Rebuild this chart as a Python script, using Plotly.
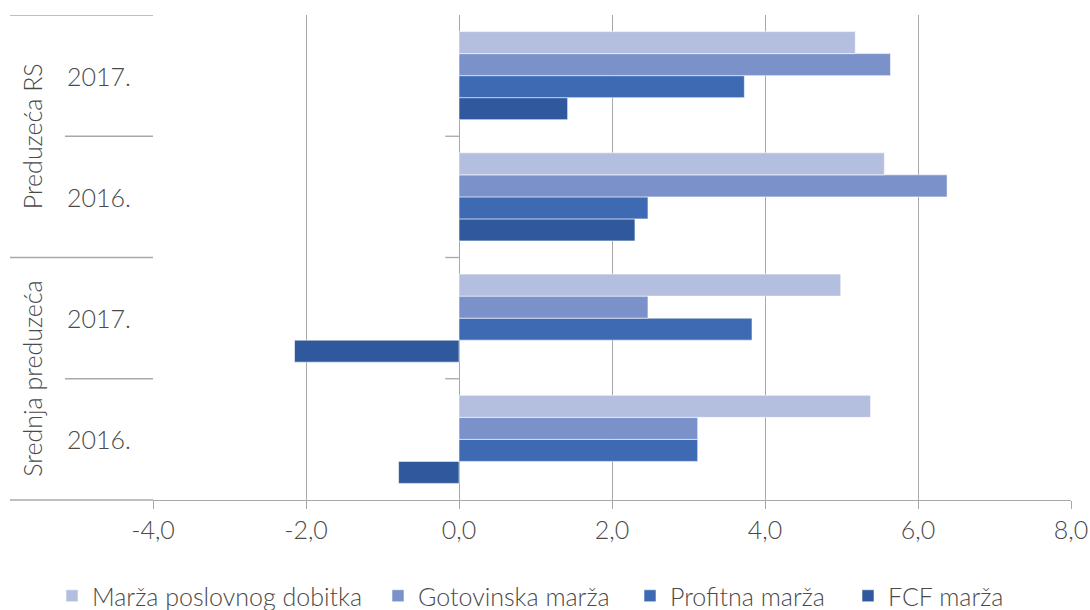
import plotly.graph_objects as go

# ---- data (bottom to top) ----
positions = [0, 1, 2, 3]
years = ["2016.", "2017.", "2016.", "2017."]
groups = ["Srednja preduzeća", "Preduzeća RS"]
group_centers = [0.5, 2.5]

series_names = ["Marža poslovnog dobitka", "Gotovinska marža", "Profitna marža", "FCF marža"]
marza_poslovnog = [5.38, 4.99, 5.56, 5.18]
gotovinska = [3.12, 2.47, 6.38, 5.64]
profitna = [3.12, 3.83, 2.47, 3.73]
fcf = [-0.79, -2.15, 2.30, 1.42]
series_values = [marza_poslovnog, gotovinska, profitna, fcf]
colors = ["#B4BFDF", "#7A91C9", "#3D6AB3", "#2F599C"]

x_ticks = [-4, -2, 0, 2, 4, 6, 8]
x_tick_labels = ["-4,0", "-2,0", "0,0", "2,0", "4,0", "6,0", "8,0"]

FONT = "Lato"
FS = 25
TXT = "#4a4a4a"
GRID = "#A8A8A8"

W, H = 1090, 610
# screen positions of the plot area
S_LEFT, S_RIGHT, S_TOP, S_BOTTOM = 153, 1071, 15, 500
L, T = S_LEFT, S_TOP
R = W - S_RIGHT
B = H - S_BOTTOM
PW = W - L - R
PH = H - T - B


def sx(px):
    return (px - L) / PW


def sy(py):
    return (H - B - py) / PH


legend_ids = ["legend", "legend2", "legend3", "legend4"]
legend_text_x = [93, 419, 671, 889]

fig = go.Figure()
# add in reverse so first series sits on top of each group
for name, vals, col, lid in reversed(list(zip(series_names, series_values, colors, legend_ids))):
    fig.add_trace(go.Bar(
        y=positions, x=vals, name=name, orientation="h", legend=lid,
        marker=dict(color=col, line=dict(color="rgba(255,255,255,0.55)", width=1)),
    ))

legend_layout = {}
for lid, tx in zip(legend_ids, legend_text_x):
    legend_layout[lid] = dict(
        orientation="h", x=sx(tx - 41), xanchor="left",
        y=sy(596), yanchor="middle",
        font=dict(family=FONT, size=FS, color=TXT, weight=300),
        bgcolor="rgba(0,0,0,0)", borderwidth=0,
    )

fig.update_layout(
    width=W, height=H,
    margin=dict(l=L, r=R, t=T, b=B, autoexpand=False),
    paper_bgcolor="white", plot_bgcolor="white",
    barmode="group", bargap=0.274, bargroupgap=0,
    font=dict(family=FONT, size=FS, color=TXT, weight=300),
    showlegend=True,
    **legend_layout,
)

fig.update_xaxes(
    range=[-4, 8], tickvals=x_ticks, ticktext=x_tick_labels,
    showgrid=True, gridcolor=GRID, gridwidth=1.3,
    zeroline=True, zerolinecolor=GRID, zerolinewidth=1.3,
    showline=True, linecolor=GRID, linewidth=1.3,
    ticks="outside", ticklen=8, tickcolor=GRID, tickwidth=1.3,
    tickfont=dict(family=FONT, size=FS, color=TXT, weight=300),
    automargin=False,
)
fig.update_yaxes(range=[-0.5, 3.5], showticklabels=False, showgrid=False,
                 zeroline=False, showline=False, ticks="", automargin=False)

# extend the bottom axis line under the category labels
px_left = sx(10)
px_inner = sx(65)
fig.add_shape(type="line", xref="paper", yref="paper", x0=px_left, x1=0, y0=0, y1=0,
              line=dict(color=GRID, width=1.3))
# category divider lines in label area
for yb, outer in [(3.5, True), (2.5, False), (1.5, True), (0.5, False)]:
    fig.add_shape(type="line", xref="paper", yref="y", x0=px_left if outer else px_inner, x1=0,
                  y0=yb, y1=yb, line=dict(color=GRID, width=1.3))
# small ticks on the zero axis at category boundaries
for yb in [0.5, 1.5, 2.5]:
    fig.add_shape(type="line", xref="x", yref="y", x0=-0.18, x1=0, y0=yb, y1=yb,
                  line=dict(color=GRID, width=1.3))

# year labels
for p, yr in zip(positions, years):
    fig.add_annotation(x=sx(99), xref="paper", y=p, yref="y", text=yr,
                       showarrow=False, xanchor="center", yanchor="middle",
                       font=dict(family=FONT, size=FS, color=TXT, weight=300))
# group labels (rotated)
for g, c in zip(groups, group_centers):
    fig.add_annotation(x=sx(32), xref="paper", y=c, yref="y", text=g,
                       showarrow=False, textangle=-90, xanchor="center", yanchor="middle",
                       font=dict(family=FONT, size=FS, color=TXT, weight=300))

fig.write_html(
    "out.html",
    config={"displayModeBar": False},
    post_script="document.body.style.margin='0';document.body.style.overflow='hidden';",
)
